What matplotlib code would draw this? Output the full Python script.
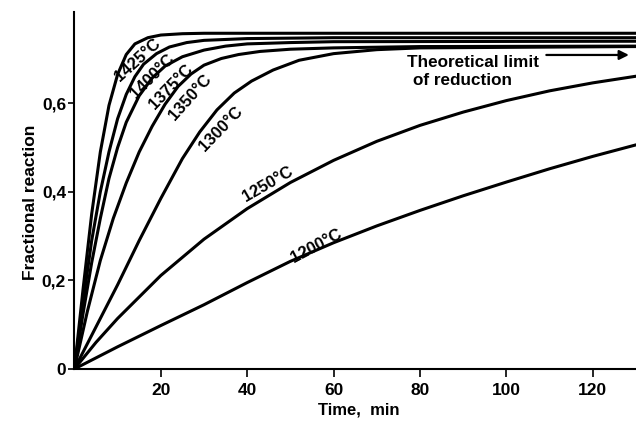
import matplotlib.pyplot as plt

plt.rcParams['font.family'] = ['Liberation Sans', 'DejaVu Sans']
plt.rcParams['font.weight'] = 'bold'

# curves: time (min) and fractional reaction
t_1425 = [0, 2, 4, 6, 8, 10, 12, 14, 17, 20, 25, 30, 40, 60, 130]
v_1425 = [0, 0.18, 0.35, 0.49, 0.595, 0.665, 0.71, 0.734, 0.748, 0.754, 0.757, 0.758, 0.758, 0.758, 0.758]

t_1400 = [0, 2, 4, 6, 8, 10, 12, 14, 16, 19, 22, 26, 30, 40, 60, 130]
v_1400 = [0, 0.15, 0.29, 0.40, 0.49, 0.565, 0.62, 0.66, 0.688, 0.712, 0.727, 0.737, 0.742, 0.746, 0.748, 0.748]

t_1375 = [0, 2, 4, 6, 8, 10, 12, 15, 18, 21, 25, 30, 35, 40, 50, 60, 130]
v_1375 = [0, 0.125, 0.24, 0.34, 0.43, 0.50, 0.557, 0.617, 0.657, 0.684, 0.705, 0.720, 0.729, 0.734, 0.737, 0.739, 0.740]

t_1350 = [0, 3, 6, 9, 12, 15, 18, 21, 24, 27, 30, 34, 38, 43, 50, 60, 80, 130]
v_1350 = [0, 0.13, 0.245, 0.34, 0.42, 0.49, 0.548, 0.598, 0.638, 0.666, 0.686, 0.701, 0.710, 0.717, 0.722, 0.725, 0.728, 0.729]

t_1300 = [0, 5, 10, 15, 20, 25, 29, 33, 37, 41, 46, 52, 60, 70, 80, 130]
v_1300 = [0, 0.095, 0.19, 0.29, 0.385, 0.475, 0.535, 0.585, 0.623, 0.65, 0.675, 0.697, 0.712, 0.721, 0.725, 0.728]

t_1250 = [0, 5, 10, 20, 30, 40, 50, 60, 70, 80, 90, 100, 110, 120, 130]
v_1250 = [0, 0.060, 0.114, 0.211, 0.293, 0.362, 0.421, 0.471, 0.514, 0.550, 0.580, 0.606, 0.628, 0.646, 0.661]

t_1200 = [0, 10, 20, 30, 40, 50, 60, 70, 80, 90, 100, 110, 120, 130]
v_1200 = [0, 0.050, 0.098, 0.145, 0.195, 0.243, 0.285, 0.323, 0.358, 0.391, 0.422, 0.452, 0.480, 0.506]

curves = [
    ('1425°C', t_1425, v_1425, (14.7, 0.698), 42),
    ('1400°C', t_1400, v_1400, (18.0, 0.660), 45),
    ('1375°C', t_1375, v_1375, (22.4, 0.638), 46),
    ('1350°C', t_1350, v_1350, (26.9, 0.614), 48),
    ('1300°C', t_1300, v_1300, (34.0, 0.543), 46),
    ('1250°C', t_1250, v_1250, (44.7, 0.418), 30),
    ('1200°C', t_1200, v_1200, (56.0, 0.278), 28),
]

x_ticks = [20, 40, 60, 80, 100, 120]
y_ticks = [0, 0.2, 0.4, 0.6]
y_tick_labels = ['0', '0,2', '0,4', '0,6']

fig = plt.figure(figsize=(6.36, 4.29), dpi=100)
ax = fig.add_axes([0.117, 0.14, 0.883, 0.832])

for label, t, v, pos, rot in curves:
    ax.plot(t, v, color='black', lw=2.2, solid_capstyle='round', solid_joinstyle='round')
    ax.text(pos[0], pos[1], label, rotation=rot, ha='center', va='center',
            fontsize=12, fontweight='bold', rotation_mode='anchor')

# theoretical limit note with arrow
ax.text(77, 0.693, 'Theoretical limit', fontsize=12.3, fontweight='bold', ha='left', va='center')
ax.text(78.4, 0.652, 'of reduction', fontsize=12.3, fontweight='bold', ha='left', va='center')
ax.annotate('', xy=(129, 0.709), xytext=(108.6, 0.709),
            arrowprops=dict(arrowstyle='-|>', color='black', lw=1.6, mutation_scale=14))

ax.set_xlim(0, 130)
ax.set_ylim(0, 0.806)
ax.set_xticks(x_ticks)
ax.set_xticklabels([str(x) for x in x_ticks])
ax.set_yticks(y_ticks)
ax.set_yticklabels(y_tick_labels)

for s in ['top', 'right']:
    ax.spines[s].set_visible(False)
for s in ['left', 'bottom']:
    ax.spines[s].set_linewidth(1.5)

ax.tick_params(axis='x', direction='out', length=6, width=1.2, pad=4, labelsize=12.5)
ax.tick_params(axis='y', direction='out', length=4, width=1.2, pad=2, labelsize=12.5)
for lbl in ax.get_xticklabels() + ax.get_yticklabels():
    lbl.set_fontweight('bold')

ax.set_xlabel('Time,  min', fontsize=12, fontweight='bold', va='center')
ax.xaxis.set_label_coords(0.507, -0.115)
ax.set_ylabel('Fractional reaction', fontsize=12.5, fontweight='bold', va='center')
ax.yaxis.set_label_coords(-0.078, 0.468)

fig.savefig('out.png', dpi=100)
